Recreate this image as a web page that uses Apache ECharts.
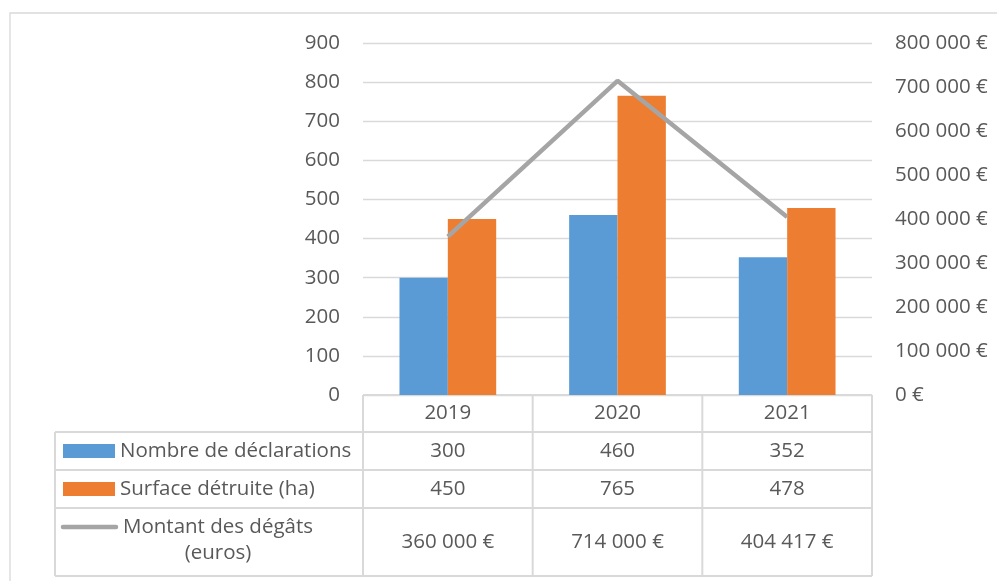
<!DOCTYPE html>
<html>
<head>
<meta charset="utf-8">
<script src="https://cdn.jsdelivr.net/npm/echarts@6/dist/echarts.min.js"></script>
<style>
  html, body { margin: 0; padding: 0; background: #fff; }
  #chart { width: 997px; height: 581px; }
</style>
</head>
<body>
<div id="chart"></div>
<script>
// Data
const years = ['2019', '2020', '2021'];
const declarations = [300, 460, 352];
const surface = [450, 765, 478];
const montant = [360000, 714000, 404417];
const seriesNames = ['Nombre de déclarations', 'Surface détruite (ha)', 'Montant des dégâts\n(euros)'];

const FONT = '"Open Sans", sans-serif';
const FS = 20.5;
const TXT = '#595959';
const GRID = '#D9D9D9';
const COLORS = ['#5B9BD5', '#ED7D31', '#A5A5A5'];

function euro(v) {
  return String(Math.round(v)).replace(/\B(?=(\d{3})+(?!\d))/g, ' ') + ' €';
}

const chart = echarts.init(document.getElementById('chart'));

const G = { left: 363, right: 125, top: 43, bottom: 186 };

chart.setOption({
  animation: false,
  textStyle: { fontFamily: FONT },
  grid: G,
  xAxis: {
    type: 'category',
    data: years,
    axisLine: { show: false },
    axisTick: { show: false },
    axisLabel: { color: TXT, fontSize: FS, fontFamily: FONT, margin: 8, verticalAlign: 'top' }
  },
  yAxis: [
    {
      type: 'value', min: 0, max: 900, interval: 100,
      axisLine: { show: false }, axisTick: { show: false },
      splitLine: { lineStyle: { color: GRID, width: 1.3 } },
      axisLabel: { color: TXT, fontSize: FS, fontFamily: FONT, margin: 23 }
    },
    {
      type: 'value', min: 0, max: 800000, interval: 100000,
      axisLine: { show: false }, axisTick: { show: false },
      splitLine: { show: false },
      axisLabel: { color: TXT, fontSize: FS, fontFamily: FONT, margin: 23, formatter: euro }
    }
  ],
  series: [
    { name: seriesNames[0], type: 'bar', data: declarations, itemStyle: { color: COLORS[0] },
      barGap: '0%', barCategoryGap: '43%' },
    { name: seriesNames[1], type: 'bar', data: surface, itemStyle: { color: COLORS[1] } },
    { name: seriesNames[2], type: 'line', yAxisIndex: 1, data: montant, symbol: 'none',
      lineStyle: { color: COLORS[2], width: 4.5 }, itemStyle: { color: COLORS[2] } }
  ]
});

// Data table below the plot
const x0 = G.left, x3 = 997 - G.right;
const colW = (x3 - x0) / years.length;
const tableLeft = 55;
const rowY = [395, 432, 470, 508, 576];
const lineStyle = { stroke: GRID, lineWidth: 2 };
const els = [];

// outer chart frame
els.push({ type: 'polyline', shape: { points: [[10, 600], [10, 13], [1010, 13]] },
  style: { stroke: GRID, lineWidth: 1.3, fill: null } });

// horizontal lines
els.push({ type: 'line', shape: { x1: x0, y1: rowY[0], x2: x3, y2: rowY[0] }, style: lineStyle });
for (let i = 1; i < rowY.length; i++) {
  els.push({ type: 'line', shape: { x1: tableLeft, y1: rowY[i], x2: x3, y2: rowY[i] }, style: lineStyle });
}
// vertical lines
els.push({ type: 'line', shape: { x1: tableLeft, y1: rowY[1], x2: tableLeft, y2: rowY[4] }, style: lineStyle });
for (let c = 0; c <= years.length; c++) {
  const x = x0 + c * colW;
  els.push({ type: 'line', shape: { x1: x, y1: rowY[0], x2: x, y2: rowY[4] }, style: lineStyle });
}

// legend keys, row labels and values
const rows = [declarations, surface, montant];
rows.forEach((vals, r) => {
  const cy = (rowY[r + 1] + rowY[r + 2]) / 2;
  if (r < 2) {
    els.push({ type: 'rect', shape: { x: 63, y: cy - 7, width: 52, height: 14 }, style: { fill: COLORS[r] } });
    els.push({ type: 'text', x: 120, y: cy, style: { text: seriesNames[r], fill: TXT, font: FS + 'px ' + FONT,
      textAlign: 'left', textVerticalAlign: 'middle' } });
  } else {
    const ly = rowY[3] + 19;
    els.push({ type: 'line', shape: { x1: 63, y1: ly, x2: 116, y2: ly },
      style: { stroke: COLORS[2], lineWidth: 4.5, lineCap: 'round' } });
    els.push({ type: 'text', x: 218, y: ly + 13, style: { text: seriesNames[r], fill: TXT, font: FS + 'px ' + FONT,
      textAlign: 'center', textVerticalAlign: 'middle', lineHeight: 26 } });
  }
  vals.forEach((v, c) => {
    const cx = chart.convertToPixel({ xAxisIndex: 0 }, years[c]);
    els.push({ type: 'text', x: cx, y: cy, style: { text: r === 2 ? euro(v) : String(v), fill: TXT,
      font: FS + 'px ' + FONT, textAlign: 'center', textVerticalAlign: 'middle' } });
  });
});

chart.setOption({ graphic: { elements: els.map(e => Object.assign({ silent: true }, e)) } });
</script>
</body>
</html>
